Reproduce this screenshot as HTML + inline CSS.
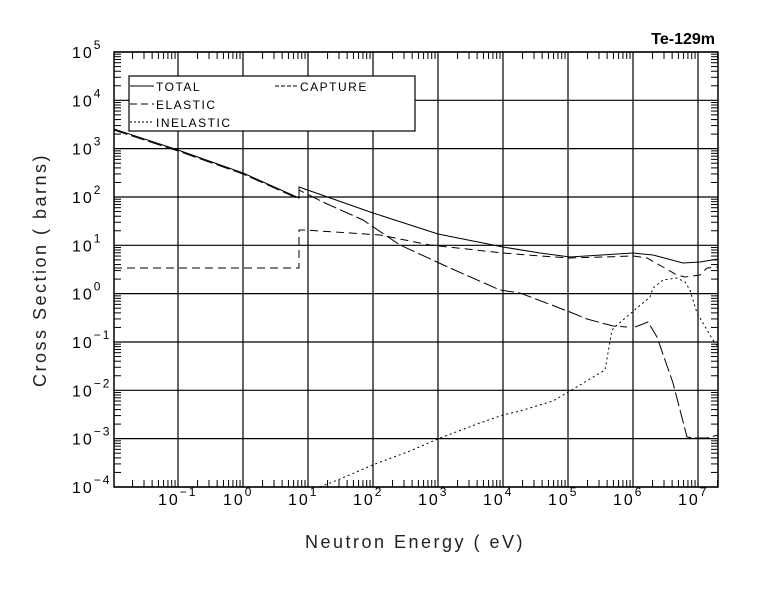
<!DOCTYPE html>
<html><head><meta charset="utf-8"><style>
body{margin:0;background:#fff;}
svg{display:block;font-family:"Liberation Sans",sans-serif;}
</style></head><body>
<svg id="s" width="779" height="590" viewBox="0 0 779 590" xmlns="http://www.w3.org/2000/svg">
<rect width="779" height="590" fill="#fff"/>
<g id="grid" stroke="#000" stroke-width="1.2" fill="none"></g>
<rect x="114" y="52" width="604" height="435" fill="none" stroke="#000" stroke-width="1.5"/>
<g id="lab" font-size="16" fill="#000"></g>
<text x="715" y="44" text-anchor="end" font-size="16" font-weight="bold">Te-129m</text>
<text transform="translate(46,270) rotate(-90)" text-anchor="middle" font-size="18" letter-spacing="2.5" fill="#222">Cross Section ( barns)</text>
<text x="415" y="548" text-anchor="middle" font-size="18" letter-spacing="2.5" fill="#222">Neutron Energy ( eV)</text>
<rect x="129" y="76" width="286" height="55" fill="#fff" stroke="#000" stroke-width="1.2"/>
<g stroke="#000" stroke-width="1" fill="none">
<line x1="130" y1="86" x2="154" y2="86"/>
<line x1="130" y1="104" x2="154" y2="104" stroke-dasharray="7,4"/>
<line x1="130" y1="122" x2="154" y2="122" stroke-dasharray="2,2"/>
<line x1="275" y1="86" x2="299" y2="86" stroke-dasharray="4,2"/>
</g>
<g font-size="12" letter-spacing="1.5">
<text x="156" y="91">TOTAL</text>
<text x="156" y="109">ELASTIC</text>
<text x="156" y="127">INELASTIC</text>
<text x="300" y="91">CAPTURE</text>
</g>
<g fill="none" stroke="#000" stroke-width="1">
<polyline points="114,129 178,150 243,173 299,198 299,187 373,213 438,234 503,247 540,253 570,257 633,253 653,255 683,263 700,262 718,259"/>
<polyline stroke-dasharray="8,5" points="114,268 299,268 299,230 305,230 380,235 430,245 503,253 540,256 570,258 633,256 647,258 663,267 677,275 685,277 700,275 707,268 718,267"/>
<polyline stroke-dasharray="14,4" points="114,130 178,151 243,174 299,199 299,190 325,203 363,220 400,245 450,268 500,290 520,293 570,312 587,319 613,326 627,327"/>
<polyline stroke-dasharray="14,4" points="635,327 648,322 657,337 673,383 687,437 693,438 707,438 718,435"/>
<polyline stroke-dasharray="2,3" points="320,487 340,479 375,464 410,451 440,438 480,423 503,415 520,411 553,401 570,391 605,370 612,330 617,325 650,297 653,288 663,280 677,278 685,282 690,290 697,313 713,340 718,347"/>
</g>
</svg>
<script>
const g=document.getElementById('grid'),lab=document.getElementById('lab');
const ns='http://www.w3.org/2000/svg';
function L(x1,y1,x2,y2,w){const l=document.createElementNS(ns,'line');l.setAttribute('x1',x1);l.setAttribute('y1',y1);l.setAttribute('x2',x2);l.setAttribute('y2',y2);if(w)l.setAttribute('stroke-width',w);g.appendChild(l);}
const X=e=>178+65*(e+1), Y=e=>52+48.33*(5-e);
for(let d=-1;d<=7;d++){L(X(d),52,X(d),487);}
for(let d=-4;d<=5;d++){L(114,Y(d),718,Y(d));}
for(let d=-2;d<=7;d++)for(let m=2;m<=9;m++){const x=X(d+Math.log10(m));if(x>114&&x<718){L(x,52,x,59,1);L(x,487,x,480,1);}}
for(let d=-4;d<5;d++)for(let m=2;m<=9;m++){const y=Y(d+Math.log10(m));L(114,y,121,y,1);L(718,y,711,y,1);}
function T(x,y,ex,anchor){const t=document.createElementNS(ns,'text');t.setAttribute('x',x);t.setAttribute('y',y);t.setAttribute('text-anchor',anchor);t.setAttribute('letter-spacing','2');t.innerHTML='10<tspan dy="-9" font-size="12">'+ex+'</tspan>';lab.appendChild(t);}
for(let d=-4;d<=5;d++)T(72,Y(d)+6,d<0?'\u2212'+(-d):d,'start');
for(let d=-1;d<=7;d++)T(X(d)-20,505,d<0?'\u2212'+(-d):d,'start');
</script>
</body></html>
